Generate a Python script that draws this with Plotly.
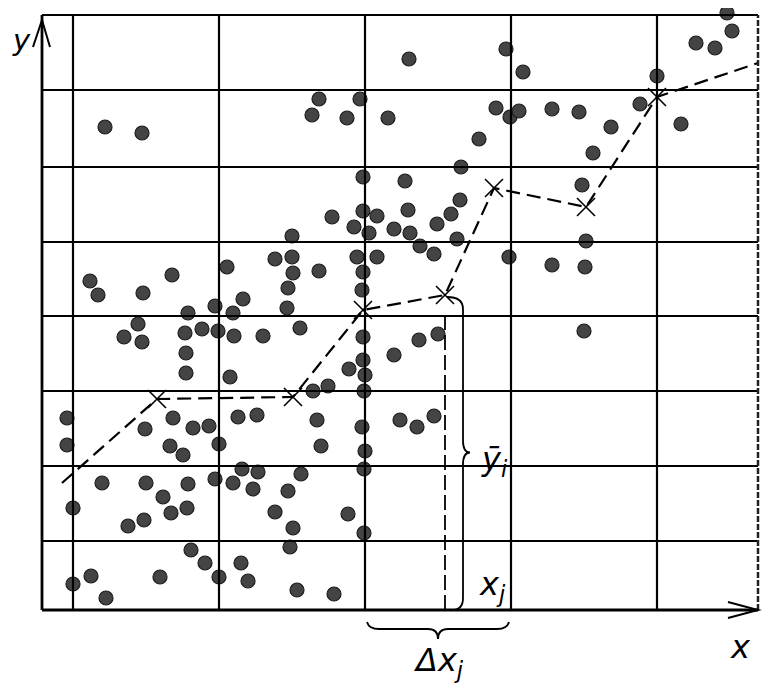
import plotly.graph_objects as go

# scattered observations (x, y)
dots_x = [63, 100, 250, 233, 250, 251, 246, 245, 185, 201, 173, 191, 48, 56, 101, 130, 146,
          367, 464, 481, 277, 318, 270, 305, 346, 454, 468, 477, 437, 419, 321, 363, 418, 409,
          395, 366, 321, 335, 290, 312, 327, 352, 368, 378, 392, 415, 467, 277, 315, 335, 321,
          320, 685, 690, 654, 673, 615, 598, 639, 510, 537, 569, 551, 540, 544, 510, 543, 542,
          96, 82, 100, 143, 160, 176, 192, 221, 258, 144, 144, 188, 25, 25, 103, 131, 151, 167,
          196, 215, 128, 141, 177, 60, 104, 146, 173, 200, 216, 191, 211, 246, 121, 31, 233,
          145, 129, 102, 86, 251, 248, 149, 163, 199, 206, 177, 118, 49, 31, 64, 255, 321, 321,
          307, 323, 322, 286, 271, 352, 377, 396, 275, 279, 320, 323, 322, 358, 375, 392, 259,
          306, 322, 292]
dots_y = [483, 477, 374, 351, 353, 337, 322, 302, 343, 311, 304, 297, 329, 315, 317, 335, 297,
          551, 561, 538, 511, 511, 495, 492, 492, 502, 493, 499, 471, 443, 433, 429, 410, 396,
          386, 400, 399, 394, 393, 383, 377, 381, 377, 364, 356, 371, 353, 339, 353, 353, 338,
          320, 597, 579, 567, 562, 534, 506, 486, 501, 498, 483, 457, 425, 369, 345, 343, 279,
          286, 273, 268, 277, 281, 279, 274, 274, 282, 257, 237, 233, 192, 165, 181, 192, 182,
          184, 193, 195, 164, 155, 166, 127, 127, 126, 131, 141, 138, 127, 121, 119, 113, 102,
          98, 102, 97, 90, 84, 82, 63, 60, 47, 47, 29, 33, 33, 34, 26, 12, 20, 273, 250,
          241, 235, 219, 224, 219, 255, 270, 276, 190, 164, 183, 159, 141, 190, 183, 194, 136,
          96, 77, 16]

# conditional means per interval (crosses) and the broken regression line
mean_x = [115, 251, 321, 403, 452, 544, 615]
mean_y = [211, 213, 300, 315, 422, 403, 513]
line_x = [20] + mean_x + [716]
line_y = [127] + mean_y + [547]

# grid
x_grid = [31, 177, 323, 469, 615]
y_grid = [69, 144, 219, 294, 368, 443, 520]
x_max, y_max = 716, 595

# selected interval
j = 3
interval = (x_grid[2], x_grid[3])
xj, yj = mean_x[j], mean_y[j]

fig = go.Figure()

fig.add_trace(go.Scatter(
    x=dots_x, y=dots_y, mode="markers",
    marker=dict(size=14, color="#444444", line=dict(width=1.2, color="#1c1c1c")),
    hoverinfo="skip", showlegend=False))

fig.add_trace(go.Scatter(
    x=line_x, y=line_y, mode="lines",
    line=dict(color="black", width=2.2, dash="14px,7px"),
    hoverinfo="skip", showlegend=False))

fig.add_trace(go.Scatter(
    x=mean_x, y=mean_y, mode="markers",
    marker=dict(symbol="x-thin", size=18, line=dict(width=1.6, color="black")),
    hoverinfo="skip", showlegend=False))

fig.add_trace(go.Scatter(
    x=[xj, xj], y=[0, yj - 18], mode="lines",
    line=dict(color="black", width=1.8, dash="15px,5px"),
    hoverinfo="skip", showlegend=False))

shapes = []
lw = 2.2
for gx in x_grid:
    shapes.append(dict(type="line", x0=gx, x1=gx, y0=0, y1=y_max, line=dict(color="black", width=lw)))
for gy in y_grid:
    shapes.append(dict(type="line", x0=0, x1=x_max, y0=gy, y1=gy, line=dict(color="black", width=lw)))
# frame and axes
shapes.append(dict(type="line", x0=0, x1=x_max, y0=y_max, y1=y_max, line=dict(color="black", width=lw)))
shapes.append(dict(type="line", x0=x_max, x1=x_max, y0=0, y1=y_max, line=dict(color="#222", width=2.5, dash="6px,2px")))
shapes.append(dict(type="line", x0=0, x1=0, y0=0, y1=y_max, line=dict(color="black", width=2.8)))
shapes.append(dict(type="line", x0=0, x1=x_max, y0=0, y1=0, line=dict(color="black", width=2.8)))
# arrowheads
shapes.append(dict(type="path", path=f"M -9,{y_max-32} L 0,{y_max-5} L 8,{y_max-32}",
                   line=dict(color="black", width=2)))
shapes.append(dict(type="path", path=f"M {x_max-30},8 L {x_max},0 L {x_max-30},-8",
                   line=dict(color="black", width=2)))
# vertical brace (mean y_i)
bx = xj + 18
mid = yj / 2
shapes.append(dict(type="path",
                   path=(f"M {xj+2},{yj-2} Q {bx},{yj-2} {bx},{yj-14} L {bx},{mid+12} "
                         f"Q {bx},{mid} {bx+7},{mid} Q {bx},{mid} {bx},{mid-12} "
                         f"L {bx},12 Q {bx},0 {xj+7},0"),
                   line=dict(color="black", width=1.8)))
# horizontal brace (delta x_j)
a, b = interval
c = (a + b) / 2
shapes.append(dict(type="path",
                   path=(f"M {a+2},-12 Q {a+4},-19 {a+14},-19 L {c-10},-19 "
                         f"Q {c},-19 {c},-29 Q {c},-19 {c+10},-19 L {b-14},-19 "
                         f"Q {b-4},-19 {b-2},-12"),
                   line=dict(color="black", width=1.8)))

font = dict(family="DejaVu Sans", size=32, color="black")
annotations = [
    dict(x=-31, y=570, xanchor="left", text="<i>y</i>", showarrow=False,
         font=dict(family="DejaVu Sans", size=29, color="black"), borderpad=0),
    dict(x=698, y=-37, text="<i>x</i>", showarrow=False, font=font),
    dict(x=452, y=mid - 8, text="<i>ȳ<sub>i</sub></i>", showarrow=False, font=font),
    dict(x=450, y=24, text="<i>x<sub>j</sub></i>", showarrow=False, font=font),
    dict(x=c, y=-52, text="<i>Δx<sub>j</sub></i>", showarrow=False, font=font),
]

# the page adds an 8 px body margin, so the figure is 8 px smaller and starts 8 px in
fig.update_layout(
    width=769, height=685,
    margin=dict(l=0, r=0, t=0, b=0),
    paper_bgcolor="white", plot_bgcolor="white",
    xaxis=dict(range=[-34, 735], visible=False, fixedrange=True),
    yaxis=dict(range=[-83, 602], visible=False, fixedrange=True),
    shapes=shapes, annotations=annotations,
    showlegend=False,
)

fig.write_html("out.html")
